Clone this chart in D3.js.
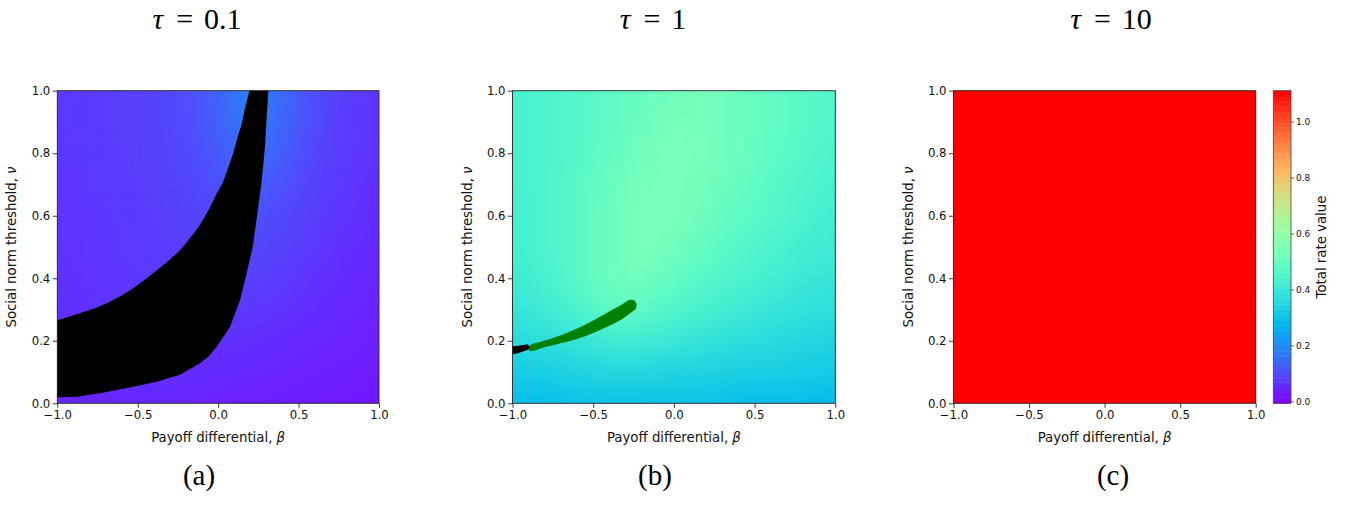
<!DOCTYPE html>
<html>
<head>
<meta charset="utf-8">
<script src="https://cdn.jsdelivr.net/npm/d3@7"></script>
<style>
  html, body { margin: 0; padding: 0; background: #fff; }
  svg { display: block; }
</style>
</head>
<body>
<svg id="chart" width="1346" height="506"></svg>
<script>
// ---------------- DATA ----------------
const titleSymbol = "\u03C4";
const titleValues = ["0.1", "1", "10"];
const captions = ["(a)", "(b)", "(c)"];
const xLabel = "Payoff differential, ";
const yLabel = "Social norm threshold, ";
const cbarLabel = "Total rate value";

const betaTicks = [-1, -0.5, 0, 0.5, 1];
const nuTicks = [0, 0.2, 0.4, 0.6, 0.8, 1];
const cbarTicks = [0, 0.2, 0.4, 0.6, 0.8, 1.0];
const cbarDomain = [-0.007, 1.11];

// grid of sampled values (cell centres)
const gridBeta = [-1, -0.8, -0.6, -0.4, -0.2, 0, 0.2, 0.4, 0.6, 0.8, 1];
const gridNu = [0, 0.1, 0.2, 0.3, 0.4, 0.5, 0.6, 0.7, 0.8, 0.9, 1];

// rows: nu = 0 ... 1 ; columns: beta = -1 ... 1
const rateTau01 = [
  [0.045, 0.046, 0.047, 0.046, 0.044, 0.040, 0.037, 0.034, 0.031, 0.028, 0.025],
  [0.050, 0.052, 0.054, 0.055, 0.054, 0.050, 0.046, 0.042, 0.038, 0.034, 0.030],
  [0.055, 0.057, 0.060, 0.062, 0.064, 0.062, 0.058, 0.052, 0.046, 0.040, 0.035],
  [0.058, 0.060, 0.063, 0.066, 0.070, 0.072, 0.070, 0.063, 0.054, 0.046, 0.040],
  [0.060, 0.063, 0.067, 0.070, 0.075, 0.080, 0.082, 0.075, 0.062, 0.052, 0.045],
  [0.062, 0.066, 0.070, 0.074, 0.080, 0.088, 0.095, 0.085, 0.070, 0.058, 0.050],
  [0.064, 0.068, 0.072, 0.077, 0.085, 0.095, 0.110, 0.095, 0.078, 0.064, 0.054],
  [0.066, 0.070, 0.075, 0.080, 0.090, 0.105, 0.130, 0.108, 0.085, 0.068, 0.058],
  [0.068, 0.072, 0.078, 0.083, 0.095, 0.118, 0.155, 0.125, 0.090, 0.072, 0.062],
  [0.070, 0.075, 0.080, 0.085, 0.100, 0.128, 0.175, 0.138, 0.097, 0.075, 0.065],
  [0.070, 0.075, 0.080, 0.085, 0.102, 0.135, 0.190, 0.145, 0.100, 0.078, 0.065]
];
const rateTau1 = [
  [0.29, 0.29, 0.30, 0.30, 0.30, 0.30, 0.30, 0.29, 0.29, 0.29, 0.28],
  [0.32, 0.33, 0.34, 0.35, 0.35, 0.34, 0.34, 0.33, 0.33, 0.32, 0.32],
  [0.36, 0.37, 0.39, 0.41, 0.41, 0.40, 0.38, 0.37, 0.36, 0.35, 0.34],
  [0.39, 0.41, 0.44, 0.48, 0.48, 0.45, 0.43, 0.41, 0.39, 0.38, 0.37],
  [0.41, 0.43, 0.47, 0.51, 0.52, 0.49, 0.46, 0.44, 0.42, 0.40, 0.39],
  [0.42, 0.44, 0.47, 0.51, 0.54, 0.52, 0.49, 0.46, 0.44, 0.42, 0.41],
  [0.42, 0.44, 0.47, 0.51, 0.54, 0.54, 0.51, 0.48, 0.46, 0.44, 0.42],
  [0.43, 0.44, 0.47, 0.50, 0.53, 0.54, 0.52, 0.50, 0.47, 0.45, 0.43],
  [0.43, 0.44, 0.46, 0.49, 0.52, 0.54, 0.53, 0.51, 0.48, 0.46, 0.44],
  [0.43, 0.44, 0.46, 0.48, 0.51, 0.53, 0.53, 0.51, 0.49, 0.47, 0.45],
  [0.43, 0.44, 0.46, 0.48, 0.50, 0.52, 0.53, 0.51, 0.49, 0.47, 0.46]
];
const rateTau10 = gridNu.map(() => gridBeta.map(() => 1.11));

// special regions, [beta, nu] boundary points
const blackRegionTau01 = [
  [-1.02, 0.266], [-1, 0.266], [-0.93, 0.277], [-0.86, 0.288], [-0.76, 0.305], [-0.673, 0.325], [-0.6, 0.345],
  [-0.527, 0.368], [-0.45, 0.398], [-0.382, 0.425], [-0.31, 0.455], [-0.237, 0.49], [-0.18, 0.525],
  [-0.134, 0.555], [-0.09, 0.59], [-0.051, 0.626], [-0.01, 0.67], [0.028, 0.705], [0.06, 0.75],
  [0.094, 0.80], [0.12, 0.85], [0.145, 0.89], [0.165, 0.94], [0.194, 1.0], [0.194, 1.02],
  [0.312, 1.02], [0.312, 1.0], [0.30, 0.9], [0.291, 0.821], [0.28, 0.76], [0.268, 0.70], [0.244, 0.608],
  [0.215, 0.501], [0.177, 0.416], [0.136, 0.33], [0.074, 0.245], [-0.009, 0.181], [-0.06, 0.15],
  [-0.113, 0.128], [-0.237, 0.091], [-0.382, 0.069], [-0.527, 0.053], [-0.735, 0.032],
  [-0.88, 0.021], [-1, 0.019], [-1.02, 0.019]
];
const greenRegionTau1 = [
  [-0.89, 0.186], [-0.8, 0.201], [-0.7, 0.218], [-0.6, 0.239], [-0.5, 0.265], [-0.4, 0.294],
  [-0.32, 0.317], [-0.27, 0.331], [-0.245, 0.329], [-0.232, 0.318], [-0.236, 0.303],
  [-0.26, 0.292], [-0.32, 0.270], [-0.4, 0.248], [-0.5, 0.225], [-0.6, 0.206], [-0.7, 0.192],
  [-0.8, 0.179], [-0.89, 0.167], [-0.905, 0.176]
];
const blackRegionTau1 = [
  [-1.02, 0.157], [-1.02, 0.182], [-0.97, 0.183], [-0.93, 0.187], [-0.905, 0.188], [-0.893, 0.180],
  [-0.905, 0.171], [-0.94, 0.165], [-0.97, 0.159]
];

// ---------------- LAYOUT ----------------
const panels = [
  { x0: 57.3, x1: 379, grid: rateTau01, regions: [{ pts: blackRegionTau01, fill: "#000", curve: d3.curveLinearClosed }], cx: 197 },
  { x0: 512.5, x1: 835.3, grid: rateTau1, regions: [{ pts: greenRegionTau1, fill: "#008000", curve: d3.curveCatmullRomClosed }, { pts: blackRegionTau1, fill: "#000", curve: d3.curveLinearClosed }], cx: 653 },
  { x0: 953.5, x1: 1255.7, grid: rateTau10, regions: [], cx: 1111 }
];
const yTop = 90.7, yBot = 403.3;
const cbar = { x0: 1273.3, x1: 1291, y0: yTop, y1: yBot };

// matplotlib "rainbow" colormap
function rainbow(t) {
  t = Math.max(0, Math.min(1, t));
  const c = v => Math.round(255 * Math.max(0, Math.min(1, v)));
  const r = Math.abs(2 * t - 0.5), g = Math.sin(Math.PI * t), b = Math.cos(Math.PI * t / 2);
  return `rgb(${c(r)},${c(g)},${c(b)})`;
}
const color = d3.scaleSequential(rainbow).domain(cbarDomain).clamp(true);

const svg = d3.select("#chart");
const defs = svg.append("defs");

// smoothing filter (normalised blur)
const filt = defs.append("filter").attr("id", "smooth")
  .attr("filterUnits", "userSpaceOnUse").attr("x", 0).attr("y", 0).attr("width", 1346).attr("height", 506)
  .attr("color-interpolation-filters", "sRGB");
filt.append("feGaussianBlur").attr("stdDeviation", 12).attr("result", "b");
const ct = filt.append("feComponentTransfer").attr("in", "b");
ct.append("feFuncA").attr("type", "table").attr("tableValues", "1 1");

const font = "'DejaVu Sans', sans-serif";
const serif = "'Liberation Serif', 'DejaVu Serif', serif";

panels.forEach((p, i) => {
  const x = d3.scaleLinear().domain([-1, 1]).range([p.x0, p.x1]);
  const y = d3.scaleLinear().domain([0, 1]).range([yBot, yTop]);
  const clipId = "clip" + i;
  defs.append("clipPath").attr("id", clipId).append("rect")
    .attr("x", p.x0).attr("y", yTop).attr("width", p.x1 - p.x0).attr("height", yBot - yTop);

  const g = svg.append("g");
  const heat = g.append("g").attr("clip-path", `url(#${clipId})`);
  const cells = heat.append("g").attr("filter", "url(#smooth)");
  const dB = 0.1, dN = 0.05;
  const cellData = [];
  p.grid.forEach((row, ri) => row.forEach((v, ci) => cellData.push({ b: gridBeta[ci], n: gridNu[ri], v })));
  cells.selectAll("rect").data(cellData).join("rect")
    .attr("x", d => x(d.b - dB))
    .attr("y", d => y(d.n + dN))
    .attr("width", d => x(d.b + dB) - x(d.b - dB) + 0.5)
    .attr("height", d => y(d.n - dN) - y(d.n + dN) + 0.5)
    .attr("fill", d => color(d.v));

  p.regions.forEach(r => {
    const line = d3.line().x(d => x(d[0])).y(d => y(d[1])).curve(r.curve);
    heat.append("path").attr("d", line(r.pts)).attr("fill", r.fill);
  });

  // axes
  const ax = g.append("g").attr("transform", `translate(0,${yBot})`)
    .call(d3.axisBottom(x).tickValues(betaTicks).tickFormat(d3.format(".1f")).tickSizeOuter(0).tickSize(4.5).tickPadding(2.5));
  const ay = g.append("g").attr("transform", `translate(${p.x0},0)`)
    .call(d3.axisLeft(y).tickValues(nuTicks).tickFormat(d3.format(".1f")).tickSizeOuter(0).tickSize(4.5).tickPadding(2.5));
  [ax, ay].forEach(a => {
    a.select(".domain").remove();
    a.selectAll("text").attr("font-family", font).attr("font-size", 11.7).attr("fill", "#111");
    a.selectAll("line").attr("stroke", "#222").attr("stroke-width", 0.9);
  });
  g.append("rect").attr("x", p.x0).attr("y", yTop).attr("width", p.x1 - p.x0).attr("height", yBot - yTop)
    .attr("fill", "none").attr("stroke", "#222").attr("stroke-width", 0.9);

  // labels
  const xl = g.append("text").attr("x", (p.x0 + p.x1) / 2).attr("y", 441.5).attr("text-anchor", "middle")
    .attr("font-family", font).attr("font-size", 13.3).attr("fill", "#111");
  xl.append("tspan").text(xLabel);
  xl.append("tspan").attr("font-style", "italic").text("\u03B2");
  const yl = g.append("text").attr("transform", `translate(${p.x0 - 41},${(yTop + yBot) / 2}) rotate(-90)`)
    .attr("text-anchor", "middle").attr("font-family", font).attr("font-size", 13.3).attr("fill", "#111");
  yl.append("tspan").text(yLabel);
  yl.append("tspan").attr("font-style", "italic").text("\u03BD");

  // title & caption
  const t = svg.append("text").attr("x", p.cx).attr("y", 29).attr("text-anchor", "middle")
    .attr("font-family", serif).attr("font-size", 30).attr("fill", "#000");
  t.append("tspan").attr("font-style", "italic").text(titleSymbol);
  t.append("tspan").attr("dx", 13).text("=");
  t.append("tspan").attr("dx", 11).text(titleValues[i]);
  svg.append("text").attr("x", p.cx + 2).attr("y", 485).attr("text-anchor", "middle")
    .attr("font-family", serif).attr("font-size", 29).attr("fill", "#000").text(captions[i]);
});

// colorbar
const cy = d3.scaleLinear().domain(cbarDomain).range([cbar.y1, cbar.y0]);
const nBands = 60;
const bands = d3.range(nBands).map(k => cbarDomain[0] + (k + 0.5) * (cbarDomain[1] - cbarDomain[0]) / nBands);
const bandH = (cbar.y1 - cbar.y0) / nBands;
const cb = svg.append("g");
cb.selectAll("rect").data(bands).join("rect")
  .attr("x", cbar.x0).attr("width", cbar.x1 - cbar.x0)
  .attr("y", d => cy(d) - bandH / 2).attr("height", bandH + 0.4)
  .attr("fill", d => color(d));
cb.append("rect").attr("x", cbar.x0).attr("y", cbar.y0).attr("width", cbar.x1 - cbar.x0).attr("height", cbar.y1 - cbar.y0)
  .attr("fill", "none").attr("stroke", "#444").attr("stroke-width", 0.8);
const cax = cb.append("g").attr("transform", `translate(${cbar.x1},0)`)
  .call(d3.axisRight(cy).tickValues(cbarTicks).tickFormat(d3.format(".1f")).tickSizeOuter(0).tickSize(3).tickPadding(2));
cax.select(".domain").remove();
cax.selectAll("text").attr("font-family", font).attr("font-size", 9).attr("fill", "#111");
cax.selectAll("line").attr("stroke", "#222").attr("stroke-width", 0.7);
svg.append("text").attr("transform", `translate(1326,${(cbar.y0 + cbar.y1) / 2}) rotate(-90)`)
  .attr("text-anchor", "middle").attr("font-family", font).attr("font-size", 13.3).attr("fill", "#111").text(cbarLabel);
</script>
</body>
</html>
